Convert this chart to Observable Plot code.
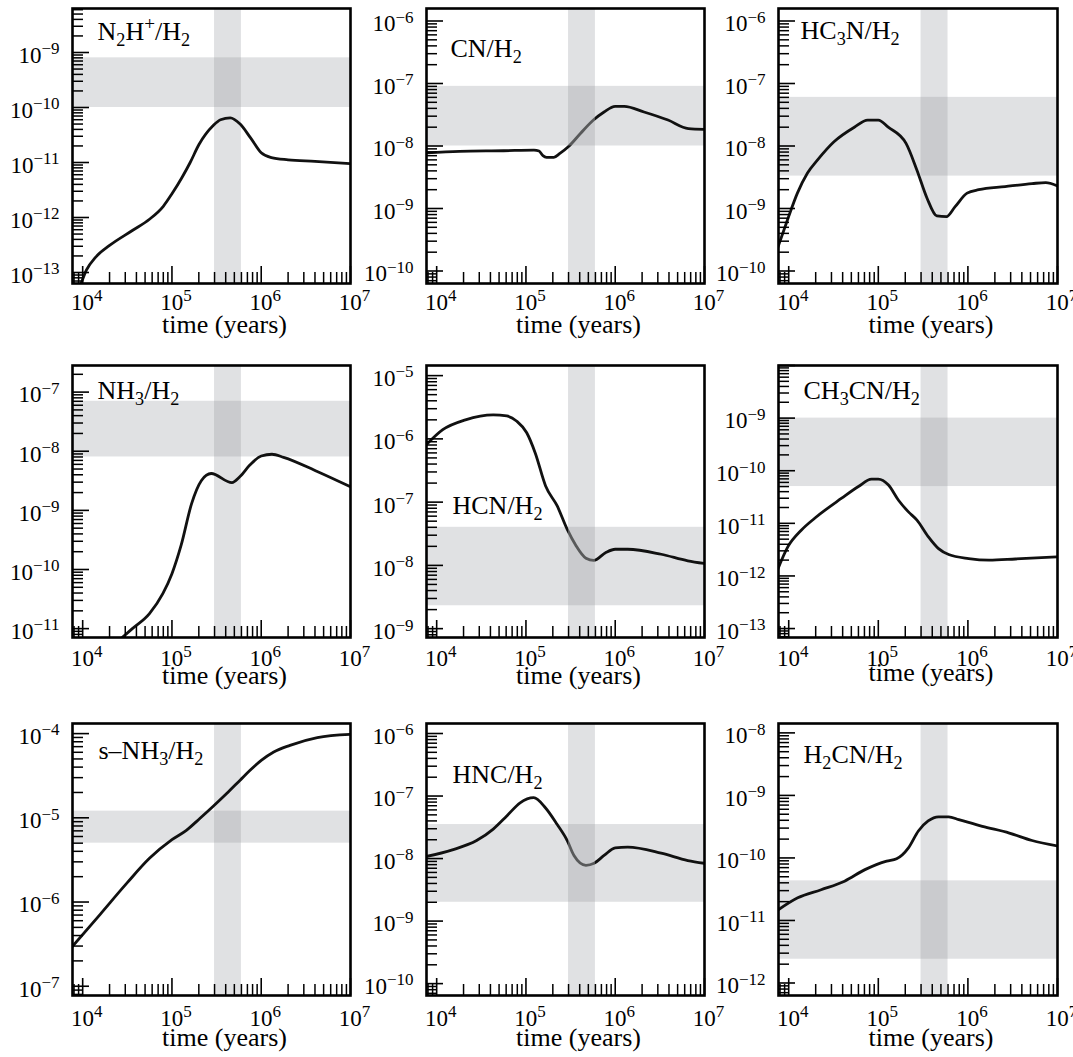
<!DOCTYPE html>
<html><head><meta charset="utf-8">
<script src="https://cdn.jsdelivr.net/npm/d3@7"></script>
<script src="https://cdn.jsdelivr.net/npm/@observablehq/plot@0.6"></script>
<style>
html,body{margin:0;padding:0;background:#fff;overflow:hidden;}
#fig{position:relative;width:1073px;height:1057px;overflow:hidden;}
#fig svg{position:absolute;}
</style></head><body><div id="fig"></div>
<script>
// ---------- data (time in years, abundance relative to H2) ----------
const N2Hp = [[9.5e3,6e-14],[1.1e4,1.1e-13],[1.4e4,1.9e-13],[2e4,3.1e-13],[3.6e4,5.8e-13],[5.6e4,9.3e-13],[8e4,1.6e-12],[1e5,2.7e-12],[1.3e5,5.4e-12],[1.6e5,1e-11],[2e5,2.1e-11],[2.9e5,4.7e-11],[3.5e5,6e-11],[4.5e5,6.5e-11],[5.8e5,5e-11],[7.6e5,2.8e-11],[1e6,1.5e-11],[1.3e6,1.23e-11],[2e6,1.12e-11],[4e6,1.05e-11],[1e7,9.5e-12]];
const CN = [[7.7e3,7.8e-9],[1.8e4,8.2e-9],[5.6e4,8.4e-9],[1.23e5,8.6e-9],[1.4e5,8.3e-9],[1.55e5,7e-9],[1.7e5,6.6e-9],[2.05e5,6.6e-9],[2.4e5,7.6e-9],[3e5,9.8e-9],[4.1e5,1.6e-8],[5.7e5,2.6e-8],[7.5e5,3.5e-8],[1e6,4.3e-8],[1.26e6,4.3e-8],[2.1e6,3.5e-8],[3.9e6,2.6e-8],[6.6e6,1.9e-8],[1e7,1.85e-8]];
const HC3N = [[7.5e3,2.3e-10],[9.7e3,6.6e-10],[1.25e4,1.76e-9],[1.62e4,3.7e-9],[2.1e4,6e-9],[3.2e4,1.17e-8],[5.4e4,2e-8],[7.6e4,2.6e-8],[1e5,2.6e-8],[1.29e5,2e-8],[2.04e5,1.1e-8],[2.7e5,4.1e-9],[3.5e5,1.46e-9],[4.5e5,7.6e-10],[5.75e5,7.4e-10],[7.2e5,1.07e-9],[9.8e5,1.76e-9],[1.32e6,2e-9],[2.6e6,2.24e-9],[5.2e6,2.5e-9],[7.4e6,2.6e-9],[1e7,2.3e-9]];
const NH3 = [[2.6e4,6.5e-12],[3.6e4,1e-11],[5.6e4,1.8e-11],[7.9e4,3.9e-11],[1e5,8.5e-11],[1.27e5,2.6e-10],[1.66e5,1.3e-9],[2.14e5,3.2e-9],[2.75e5,4.2e-9],[4.7e5,2.95e-9],[5.75e5,3.7e-9],[7.5e5,5.9e-9],[1e6,8.3e-9],[1.32e6,8.9e-9],[1.78e6,7.9e-9],[4.3e6,4.5e-9],[1e7,2.5e-9]];
const HCN = [[7.4e3,7.7e-7],[1.17e4,1.4e-6],[2.1e4,2e-6],[4.3e4,2.4e-6],[6.1e4,2.3e-6],[7.9e4,1.9e-6],[1.02e5,1.25e-6],[1.27e5,6e-7],[1.66e5,1.8e-7],[2.24e5,8.7e-8],[2.9e5,3.7e-8],[3.6e5,2.1e-8],[4.7e5,1.3e-8],[5.75e5,1.2e-8],[7.85e5,1.6e-8],[1e6,1.8e-8],[1.38e6,1.8e-8],[3.27e6,1.5e-8],[6.5e6,1.18e-8],[1e7,1.07e-8]];
const CH3CN = [[7.5e3,1.3e-12],[9.8e3,3.6e-12],[1.38e4,7.4e-12],[1.95e4,1.25e-11],[3.9e4,3e-11],[6e4,5e-11],[8.4e4,6.9e-11],[1e5,6.9e-11],[1.29e5,5.4e-11],[1.68e5,2.75e-11],[2.17e5,1.65e-11],[2.7e5,1.15e-11],[3.6e5,5.6e-12],[4.7e5,3.3e-12],[6.1e5,2.55e-12],[1.02e6,2.14e-12],[1.72e6,2e-12],[3.4e6,2.1e-12],[1e7,2.3e-12]];
const sNH3 = [[7.6e3,2.93e-7],[1.58e4,7.2e-7],[3.16e4,1.7e-6],[5.6e4,3.3e-6],[1e5,5.5e-6],[1.45e5,7.1e-6],[2.05e5,9.8e-6],[2.9e5,1.37e-5],[4.1e5,1.94e-5],[5.8e5,2.8e-5],[7.5e5,3.67e-5],[1e6,4.8e-5],[1.38e6,6.05e-5],[2.1e6,7.26e-5],[4.25e6,8.97e-5],[1e7,9.8e-5]];
const HNC = [[7.4e3,1.07e-8],[1.5e4,1.38e-8],[2.8e4,1.94e-8],[4.3e4,2.96e-8],[6.1e4,4.8e-8],[8.6e4,7.8e-8],[1.22e5,9.4e-8],[1.65e5,6.5e-8],[2.24e5,3.5e-8],[2.9e5,1.94e-8],[3.45e5,1.12e-8],[4.7e5,7.8e-9],[5.8e5,8.4e-9],[7.5e5,1.12e-8],[1e6,1.48e-8],[1.38e6,1.52e-8],[3.27e6,1.22e-8],[6.5e6,9.3e-9],[1e7,8.4e-9]];
const H2CN = [[7.5e3,1.45e-11],[1.26e4,2.3e-11],[2.3e4,3.1e-11],[4.2e4,4.25e-11],[7.1e4,6.5e-11],[1.24e5,8.9e-11],[1.6e5,9.7e-11],[2.17e5,1.45e-10],[2.8e5,2.7e-10],[3.6e5,3.9e-10],[4.7e5,4.55e-10],[6.1e5,4.55e-10],[7.9e5,4.1e-10],[1.45e6,3.2e-10],[2.9e6,2.5e-10],[5.2e6,1.9e-10],[1e7,1.55e-10]];

const series = [N2Hp, CN, HC3N, NH3, HCN, CH3CN, sNH3, HNC, H2CN];
const titles = ["N_2H^+/H_2", "CN/H_2", "HC_3N/H_2", "NH_3/H_2", "HCN/H_2", "CH_3CN/H_2", "s\u2013NH_3/H_2", "HNC/H_2", "H_2CN/H_2"];
// observed abundance ranges (horizontal bands)
const obsBands = [[1e-10,8e-10],[1e-8,9e-8],[3.3e-9,6e-8],[8e-9,7e-8],[2.3e-9,4e-8],[5e-11,1e-9],[5e-6,1.2e-5],[2e-9,3.5e-8],[2.4e-12,4.3e-11]];
// estimated age range (vertical band)
const ageBand = [3e5, 6e5];
// axis extents (log10)
const xDomainExp = [3.886, 7];
const yDomainExp = [[-13.2,-8.2],[-10.2,-5.8],[-10.2,-5.8],[-11.15,-6.55],[-9.14,-4.84],[-13.17,-8.0],[-7.11,-3.88],[-10.19,-5.84],[-12.2,-7.85]];
// labelled decades
const xLabelExp = [4, 5, 6, 7];
const yLabelExp = [[-9,-10,-11,-12,-13],[-6,-7,-8,-9,-10],[-6,-7,-8,-9,-10],[-7,-8,-9,-10,-11],[-5,-6,-7,-8,-9],[-9,-10,-11,-12,-13],[-4,-5,-6,-7],[-6,-7,-8,-9,-10],[-8,-9,-10,-11,-12]];
const xTitle = "time (years)";

// ---------- layout ----------
const colLeft = [72, 426, 778], colW = [278, 278, 279];
const rowTop = [8, 365, 723], rowH = [275, 272, 272];
const titleOff = [[25,31],[24,48],[22,30],[25,33],[26,148],[25,33],[26,35],[26,59],[25,39]];
const xTitleDy = [49,49,49,46,46,43,50,50,50];
const xTickDy = [26, 28, 30];

const ML = 72, MT = 8, MB = 64;
const fig = document.getElementById("fig");
const SVGNS = "http://www.w3.org/2000/svg";

function richify(svg) {
  svg.querySelectorAll("text").forEach(t => {
    const s = t.textContent;
    if (!/[\^_]/.test(s)) return;
    const F = parseFloat(getComputedStyle(t).fontSize) || 20;
    t.textContent = "";
    let shift = 0;
    const add = (str, mode) => {
      const ts = document.createElementNS(SVGNS, "tspan");
      const target = mode === "sub" ? 0.24 * F : mode === "sup" ? -0.37 * F : 0;
      const dy = target - shift; shift = target;
      if (dy) ts.setAttribute("dy", dy.toFixed(2));
      if (mode) ts.setAttribute("font-size", ((mode === "sup" ? 0.74 : 0.7) * F).toFixed(1));
      ts.textContent = str; t.appendChild(ts);
    };
    let buf = "", i = 0;
    while (i < s.length) {
      const c = s[i];
      if (c === "^" || c === "_") {
        if (buf) { add(buf, null); buf = ""; }
        let arg;
        if (s[i + 1] === "{") { const j = s.indexOf("}", i + 2); arg = s.slice(i + 2, j); i = j + 1; }
        else { arg = s[i + 1]; i += 2; }
        add(arg, c === "^" ? "sup" : "sub");
      } else { buf += c; i++; }
    }
    if (buf) add(buf, null);
  });
}

const isMajor = v => Math.abs(Math.log10(v) - Math.round(Math.log10(v))) < 1e-6;
const xDom = xDomainExp.map(e => 10 ** e);
const xt = d3.scaleLog().domain(xDom).ticks();

series.forEach((data, i) => {
  const r = Math.floor(i / 3), c = i % 3;
  const FW = colW[c], FH = rowH[r];
  const MR = c === 2 ? 16 : 26;
  const yDom = yDomainExp[i].map(e => 10 ** e);
  const yt = d3.scaleLog().domain(yDom).ticks();
  const band = obsBands[i];
  const chart = Plot.plot({
    width: ML + FW + MR, height: MT + FH + MB,
    marginLeft: ML, marginRight: MR, marginTop: MT, marginBottom: MB,
    style: {background: "transparent", overflow: "visible", fontFamily: "'Liberation Serif','Times New Roman',serif", color: "black"},
    x: {type: "log", domain: xDom, axis: null},
    y: {type: "log", domain: yDom, axis: null},
    marks: [
      Plot.rect([band], {y1: d => d[0], y2: d => d[1], fill: "#e0e1e3"}),
      Plot.rect([ageBand], {x1: d => d[0], x2: d => d[1], fill: "#e0e1e3"}),
      Plot.line(data, {x: d => d[0], y: d => d[1], stroke: "#111", strokeWidth: 2.8, curve: "monotone-x", clip: true}),
      Plot.rect([[ageBand, band]], {x1: d => d[0][0], x2: d => d[0][1], y1: d => d[1][0], y2: d => d[1][1], fill: "#b0b1b3", fillOpacity: 0.45}),
      Plot.tickY(yt.filter(v => !isMajor(v)), {y: d => d, insetRight: FW - 11, stroke: "black", strokeWidth: 1.5}),
      Plot.tickY(yt.filter(isMajor), {y: d => d, insetRight: FW - 17, stroke: "black", strokeWidth: 1.6}),
      Plot.tickX(xt.filter(v => !isMajor(v)), {x: d => d, insetTop: FH - 11, stroke: "black", strokeWidth: 1.5}),
      Plot.tickX(xt.filter(isMajor), {x: d => d, insetTop: FH - 17, stroke: "black", strokeWidth: 1.6}),
      Plot.frame({stroke: "black", strokeWidth: 2.6}),
      Plot.text(yLabelExp[i], {y: d => 10 ** d, text: d => `10^{\u2212${-d}}`, frameAnchor: "left", textAnchor: "end", lineAnchor: "middle", dx: -13, dy: 3, fontSize: 23, fill: "black"}),
      Plot.text(xLabelExp, {x: d => 10 ** d, text: d => `10^{${d}}`, frameAnchor: "bottom", textAnchor: "middle", lineAnchor: "bottom", dx: 4, dy: xTickDy[r], fontSize: 23, fill: "black"}),
      Plot.text([xTitle], {text: d => d, frameAnchor: "bottom", textAnchor: "middle", lineAnchor: "bottom", dx: 13, dy: xTitleDy[i], fontSize: 26, fill: "black"}),
      Plot.text([titles[i]], {text: d => d, frameAnchor: "top-left", textAnchor: "start", lineAnchor: "bottom", dx: titleOff[i][0], dy: titleOff[i][1], fontSize: 26, fill: "black"})
    ]
  });
  chart.style.left = (colLeft[c] - ML) + "px";
  chart.style.top = (rowTop[r] - MT) + "px";
  fig.appendChild(chart);
  richify(chart);
});
</script>
</body></html>
